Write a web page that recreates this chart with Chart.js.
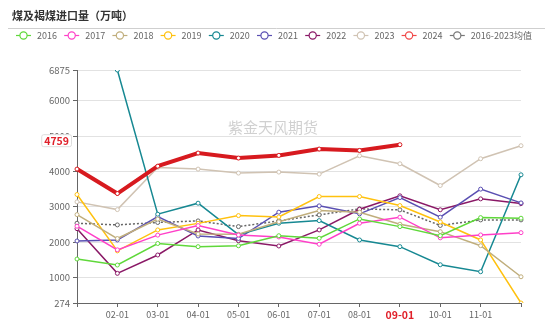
<!DOCTYPE html>
<html>
<head>
<meta charset="utf-8">
<script src="https://cdn.jsdelivr.net/npm/chart.js@4.4.0/dist/chart.umd.min.js"></script>
<style>
  html, body { margin: 0; padding: 0; background: #fff; }
</style>
</head>
<body>
<canvas id="chart" width="550" height="321"></canvas>
<script>
// categories + ticks
const months = ["01-01","02-01","03-01","04-01","05-01","06-01","07-01","08-01","09-01","10-01","11-01","12-01"];
const yTicks = [274, 1000, 2000, 3000, 4000, 5000, 6000, 6875];

// 煤及褐煤进口量 (万吨)
const y2016 = [1520, 1350, 1960, 1870, 1895, 2180, 2108, 2656, 2438, 2180, 2693, 2676];
const y2017 = [2450, 1780, 2197, 2466, 2200, 2145, 1938, 2534, 2705, 2120, 2202, 2267];
const y2018 = [2778, 2100, 2650, 2230, 2220, 2575, 2892, 2847, 2506, 2295, 1898, 1017];
const y2019 = [3347, 1750, 2344, 2530, 2750, 2710, 3290, 3290, 3034, 2570, 2060, 274];
const y2020 = [null, 6875, 2790, 3102, 2210, 2534, 2608, 2060, 1870, 1358, 1160, 3906];
const y2021 = [2031, 2060, 2720, 2173, 2100, 2847, 3026, 2800, 3261, 2705, 3500, 3110];
const y2022 = [2380, 1114, 1634, 2344, 2040, 1889, 2344, 2930, 3310, 2915, 3224, 3090];
const y2023 = [3139, 2920, 4115, 4068, 3955, 3983, 3926, 4446, 4219, 3602, 4361, 4730];
const y2024 = [4068, 3375, 4150, 4523, 4380, 4455, 4636, 4597, 4759];
const avg1623 = [2534, 2486, 2555, 2600, 2438, 2600, 2770, 2940, 2912, 2470, 2628, 2628];

const latestIdx = 8; // 09-01
const latestVal = y2024[latestIdx];

function line(label, data, color, legendColor, extra) {
  return Object.assign({
    label: label,
    data: data,
    borderColor: color,
    legendColor: legendColor || color,
    backgroundColor: '#fff',
    borderWidth: 1.5,
    pointRadius: 2,
    pointBorderWidth: 1,
    pointBackgroundColor: '#fff',
    pointBorderColor: color,
    tension: 0,
    spanGaps: false,
    order: 1
  }, extra || {});
}

const datasets = [
  line("2016", y2016, "#5fd83a"),
  line("2017", y2017, "#ff40c8"),
  line("2018", y2018, "#c0ae7c"),
  line("2019", y2019, "#ffc10e"),
  line("2020", y2020, "#168892"),
  line("2021", y2021, "#5a4fb2"),
  line("2022", y2022, "#8a1866"),
  line("2023", y2023, "#d0c3b3"),
  line("2024", y2024, "#d71a1f", "#f04848", { borderWidth: 4, order: 0 }),
  line("2016-2023均值", avg1623, "#666", "#777", { borderDash: [2, 2], borderWidth: 1.5 })
];

const fontSans = "'Noto Sans CJK SC', 'Noto Sans', sans-serif";

const decorPlugin = {
  id: 'decor',
  beforeDatasetsDraw(chart) {
    const ctx = chart.ctx;
    ctx.save();
    ctx.font = "15px " + fontSans;
    ctx.fillStyle = "rgba(170,170,170,0.55)";
    ctx.textAlign = "left";
    ctx.textBaseline = "middle";
    ctx.fillText("紫金天风期货", 228, 127);
    ctx.restore();
  },
  afterDraw(chart) {
    const ctx = chart.ctx;
    ctx.save();
    // title
    ctx.font = "bold 11px " + fontSans;
    ctx.fillStyle = "#333";
    ctx.textAlign = "left";
    ctx.textBaseline = "middle";
    ctx.fillText("煤及褐煤进口量（万吨）", 12, 16);
    ctx.strokeStyle = "#cfcfcf";
    ctx.lineWidth = 1;
    ctx.beginPath();
    ctx.moveTo(8, 28.5);
    ctx.lineTo(545, 28.5);
    ctx.stroke();

    // legend
    ctx.font = "9px " + fontSans;
    chart.data.datasets.forEach((ds, i) => {
      const x = 16 + i * 48.2;
      const y = 35.5;
      const c = ds.legendColor;
      ctx.strokeStyle = c;
      ctx.lineWidth = 1.2;
      ctx.setLineDash([]);
      ctx.beginPath();
      ctx.moveTo(x, y);
      ctx.lineTo(x + 15, y);
      ctx.stroke();
      ctx.beginPath();
      ctx.arc(x + 7.5, y, 3.6, 0, Math.PI * 2);
      ctx.fillStyle = "#fff";
      ctx.fill();
      ctx.stroke();
      ctx.fillStyle = "#666";
      ctx.fillText(ds.label, x + 21, y);
    });

    // latest value tag on the y axis
    const yPix = chart.scales.y.getPixelForValue(latestVal) - 4;
    const txt = String(latestVal);
    ctx.font = "bold 10.5px " + fontSans;
    const w = ctx.measureText(txt).width + 5;
    const bx = 71.5 - w;
    ctx.fillStyle = "#fff";
    ctx.strokeStyle = "#ddd";
    ctx.lineWidth = 1;
    ctx.beginPath();
    ctx.roundRect(bx, yPix - 6, w, 12, 2);
    ctx.fill();
    ctx.stroke();
    ctx.fillStyle = "#e0202a";
    ctx.textAlign = "center";
    ctx.fillText(txt, bx + w / 2, yPix + 0.5);
    ctx.restore();
  }
};

new Chart(document.getElementById("chart"), {
  type: "line",
  data: { labels: months, datasets: datasets },
  options: {
    responsive: false,
    animation: false,
    layout: { padding: { top: 70, right: 29, left: 0, bottom: 0 } },
    plugins: {
      legend: { display: false },
      title: { display: false },
      tooltip: { enabled: false }
    },
    scales: {
      x: {
        type: "category",
        offset: false,
        border: { display: true, color: "#666", width: 1 },
        grid: { display: true, drawOnChartArea: false, tickLength: 4, tickColor: "#666" },
        ticks: {
          autoSkip: false,
          maxRotation: 0,
          padding: 2,
          callback: (v, i) => (i === 0 || i === months.length - 1) ? "" : months[i],
          color: c => c.index === latestIdx ? "#e0202a" : "#666",
          font: c => c.index === latestIdx ? { family: fontSans, size: 10.5, weight: "bold" } : { family: fontSans, size: 9 }
        },
        afterFit: s => { s.height = 18; }
      },
      y: {
        min: 274,
        max: 6875,
        border: { display: true, color: "#666", width: 1 },
        grid: { color: "#e2e2e2", lineWidth: 1, tickLength: 4, tickColor: "#666" },
        afterBuildTicks: s => { s.ticks = yTicks.map(v => ({ value: v })); },
        ticks: {
          color: "#666",
          padding: 3,
          font: { family: fontSans, size: 9.5 },
          callback: v => String(v)
        },
        afterFit: s => { s.width = 77; }
      }
    }
  },
  plugins: [decorPlugin]
});
</script>
</body>
</html>
